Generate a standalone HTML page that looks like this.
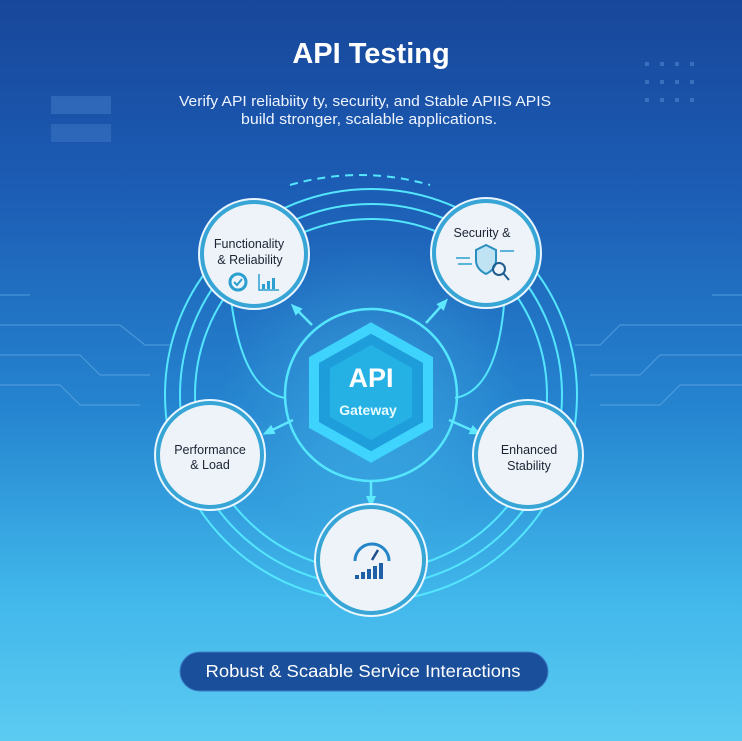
<!DOCTYPE html>
<html><head><meta charset="utf-8"><style>
html,body{margin:0;padding:0}
body{width:742px;height:741px;overflow:hidden;font-family:"Liberation Sans",sans-serif;background:linear-gradient(180deg,#17479a 0%,#1c5cb4 25%,#2584cf 55%,#40b6ea 80%,#5ccbf2 100%)}
</style></head><body>
<svg width="742" height="741" viewBox="0 0 742 741" xmlns="http://www.w3.org/2000/svg" style="position:absolute;left:0;top:0">
<defs>
<radialGradient id="g" cx="50%" cy="50%" r="50%"><stop offset="0" stop-color="#5fe3ff" stop-opacity=".3"/><stop offset="1" stop-color="#5fe3ff" stop-opacity="0"/></radialGradient>
<marker id="a" markerUnits="userSpaceOnUse" markerWidth="12" markerHeight="12" refX="6" refY="6" orient="auto"><path d="M0,1 L12,6 L0,11 z" fill="#5ee8ff"/></marker>
</defs>
<rect x="51" y="96" width="60" height="18" fill="#5a8fd6" opacity=".35"/>
<rect x="51" y="124" width="60" height="18" fill="#5a8fd6" opacity=".3"/>
<g fill="#4f86d0" opacity=".6">
<rect x="645" y="62" width="4" height="4"/><rect x="660" y="62" width="4" height="4"/><rect x="675" y="62" width="4" height="4"/><rect x="690" y="62" width="4" height="4"/>
<rect x="645" y="80" width="4" height="4"/><rect x="660" y="80" width="4" height="4"/><rect x="675" y="80" width="4" height="4"/><rect x="690" y="80" width="4" height="4"/>
<rect x="645" y="98" width="4" height="4"/><rect x="660" y="98" width="4" height="4"/><rect x="675" y="98" width="4" height="4"/><rect x="690" y="98" width="4" height="4"/>
</g>
<g stroke="#6fb6ee" stroke-width="1.2" fill="none" opacity=".5">
<path d="M0,295 H30 M0,325 H120 L145,345 H170 M0,355 H80 L100,375 H150 M0,385 H60 L80,405 H140"/>
<path d="M742,295 H712 M742,325 H620 L600,345 H575 M742,355 H660 L640,375 H590 M742,385 H680 L660,405 H600"/>
</g>
<text x="371" y="63" text-anchor="middle" fill="#fff" font-size="29" font-weight="bold">API Testing</text>
<text x="365" y="106" text-anchor="middle" fill="#eef4ff" font-size="14.5" textLength="372" lengthAdjust="spacingAndGlyphs">Verify API reliabiity ty, security, and Stable APIIS APIS</text>
<text x="369" y="124" text-anchor="middle" fill="#eef4ff" font-size="14.5" textLength="256" lengthAdjust="spacingAndGlyphs">build stronger, scalable applications.</text>
<circle cx="371" cy="395" r="150" fill="url(#g)"/>
<g fill="none" stroke="#55e6ff" stroke-width="2">
<circle cx="371" cy="395" r="206"/>
<circle cx="371" cy="395" r="191"/>
<circle cx="371" cy="395" r="176"/>
<circle cx="371" cy="395" r="86" stroke-width="2.5"/>
<path d="M230,290 Q240,390 285,398"/>
<path d="M505,290 Q500,390 455,398"/>
<path d="M290,185 Q360,165 430,185" stroke-dasharray="8 6"/>
</g>
<g stroke="#5ee8ff" stroke-width="2.5" marker-end="url(#a)">
<line x1="312" y1="325" x2="295" y2="308"/>
<line x1="426" y1="323" x2="444" y2="303"/>
<line x1="293" y1="420" x2="268" y2="432"/>
<line x1="449" y1="420" x2="476" y2="432"/>
<line x1="371" y1="481" x2="371" y2="502"/>
</g>
<polygon points="371,328 428,360 428,425 371,457 314,425 314,360" fill="#1d9fdc" stroke="#3fd7ff" stroke-width="10" opacity=".95"/>
<polygon points="371,345 412,368 412,417 371,440 330,417 330,368" fill="#27b5e6" opacity=".8"/>
<text x="371" y="387" text-anchor="middle" fill="#fff" font-size="27" font-weight="bold">API</text>
<text x="368" y="415" text-anchor="middle" fill="#e8fbff" font-size="14" font-weight="bold">Gateway</text>
<g stroke="#37a6d6" stroke-width="4" fill="#eef3f9">
<circle cx="254" cy="254" r="52"/>
<circle cx="486" cy="253" r="52"/>
<circle cx="210" cy="455" r="52"/>
<circle cx="528" cy="455" r="52"/>
<circle cx="371" cy="560" r="53"/>
</g>
<g stroke="#e9f6ff" stroke-width="2" fill="none">
<circle cx="254" cy="254" r="55"/><circle cx="486" cy="253" r="55"/><circle cx="210" cy="455" r="55"/><circle cx="528" cy="455" r="55"/><circle cx="371" cy="560" r="56"/>
</g>
<g fill="#1b2433" font-size="12.5" text-anchor="middle">
<text x="249" y="248">Functionality</text>
<text x="250" y="264">&amp; Reliability</text>
<text x="482" y="237">Security &amp;</text>
<text x="210" y="454">Performance</text>
<text x="210" y="469">&amp; Load</text>
<text x="529" y="454">Enhanced</text>
<text x="529" y="470">Stability</text>
</g>
<circle cx="238" cy="282" r="8" fill="none" stroke="#2a9fd0" stroke-width="3"/>
<path d="M234,282 l3,3 l5,-6" stroke="#2a9fd0" stroke-width="2" fill="none"/>
<path d="M259,274 V290 H279" stroke="#2a9fd0" stroke-width="1.5" fill="none"/>
<g fill="#2a9fd0"><rect x="262" y="284" width="3" height="5"/><rect x="267" y="281" width="3" height="8"/><rect x="272" y="278" width="3" height="11"/></g>
<path d="M476,250 l10,-5 l10,5 v10 q0,9 -10,14 q-10,-5 -10,-14z" fill="#bfe3f3" stroke="#2a8fc0" stroke-width="2"/>
<circle cx="499" cy="269" r="6" fill="none" stroke="#1f5c8f" stroke-width="2"/>
<line x1="503" y1="273" x2="509" y2="280" stroke="#1f5c8f" stroke-width="2"/>
<g stroke="#2a9fd0" stroke-width="1.5"><line x1="456" y1="258" x2="470" y2="258"/><line x1="458" y1="264" x2="472" y2="264"/><line x1="500" y1="251" x2="514" y2="251"/></g>
<path d="M355,561 a17,17 0 0 1 34,0" fill="none" stroke="#2486c8" stroke-width="3"/>
<line x1="372" y1="560" x2="378" y2="550" stroke="#1f4f8a" stroke-width="2.5"/>
<g fill="#1f5fa8"><rect x="355" y="575" width="4" height="4"/><rect x="361" y="572" width="4" height="7"/><rect x="367" y="569" width="4" height="10"/><rect x="373" y="566" width="4" height="13"/><rect x="379" y="563" width="4" height="16"/></g>
<rect x="180" y="652" width="368" height="39" rx="19.5" fill="#1a4f9c" stroke="#3c7ec8" stroke-width="1"/>
<text x="363" y="677" text-anchor="middle" fill="#fff" font-size="17.5" textLength="315" lengthAdjust="spacingAndGlyphs">Robust &amp; Scaable Service Interactions</text>
</svg>
</body></html>
